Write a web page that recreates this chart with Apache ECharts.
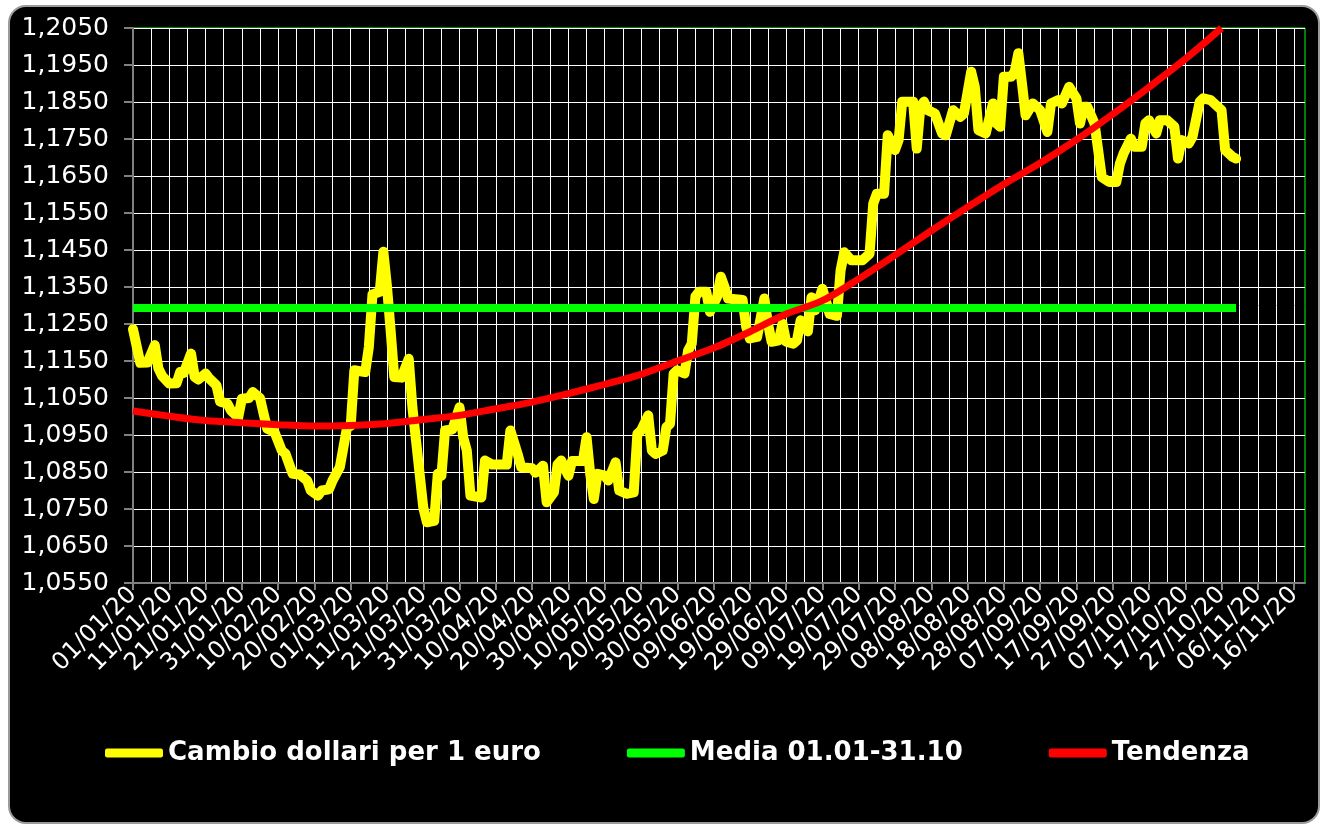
<!DOCTYPE html>
<html lang="it">
<head>
<meta charset="UTF-8">
<script src="https://cdn.jsdelivr.net/npm/echarts@6/dist/echarts.min.js"></script>
<title>Cambio dollari per 1 euro</title>
<style>
  body { margin: 0; background: #fff; }
  #frame { position: absolute; left: 8px; top: 5px; width: 1308px; height: 815px;
           background: #000; border: 2px solid #9a9a9a; border-radius: 18px; }
  #chart { position: absolute; left: 0; top: 0; width: 1322px; height: 825px; }
</style>
</head>
<body>
<div id="frame"></div>
<div id="chart"></div>
<script>
// asse x: un giorno per categoria, dal 01/01/20 al 19/11/20
var startDay = new Date(2020, 0, 1);
var dayCount = 324;

// cambio giornaliero (indice giorno -> valore)
var rateDays = [0, 2, 4, 6, 7, 8, 10, 12, 13, 14, 16, 17, 18, 20, 21, 23, 24, 26, 27, 29,
  30, 32, 33, 35, 36, 37, 39, 41, 42, 44, 46, 48, 49, 51, 52, 54, 55, 57, 58, 59,
  60, 61, 64, 65, 66, 68, 69, 70, 71, 72, 74, 76, 77, 78, 80, 81, 83, 84, 85, 86,
  88, 90, 91, 92, 93, 96, 97, 99, 103, 104, 106, 107, 110, 111, 113, 114, 116, 117, 118, 120,
  121, 124, 125, 126, 127, 128, 130, 131, 133, 134, 136, 138, 139, 140, 142, 143, 144, 146, 147, 148,
  149, 150, 152, 153, 154, 155, 156, 158, 159, 161, 162, 163, 164, 168, 169, 170, 172, 174, 175, 176,
  178, 179, 180, 182, 183, 184, 185, 186, 187, 188, 190, 192, 194, 195, 196, 198, 201, 203, 204, 205,
  207, 208, 210, 211, 212, 215, 216, 217, 218, 219, 221, 223, 224, 226, 228, 229, 231, 232, 233, 235,
  237, 238, 239, 240, 242, 243, 244, 245, 246, 248, 250, 252, 253, 255, 256, 258, 260, 261, 262, 263,
  265, 266, 267, 269, 271, 272, 273, 275, 276, 278, 279, 280, 282, 283, 285, 287, 288, 289, 291, 292,
  294, 295, 297, 299, 300, 301, 303, 304];
var rateValues = [1.1236, 1.1145, 1.1146, 1.1193, 1.1130, 1.1110, 1.1089, 1.1090, 1.1120, 1.1118, 1.1170, 1.1107, 1.1100, 1.1116, 1.1103, 1.1084, 1.1040, 1.1035, 1.1016, 1.0998,
  1.1048, 1.1050, 1.1066, 1.1050, 1.1007, 1.0967, 1.0958, 1.0908, 1.0900, 1.0845, 1.0843, 1.0827, 1.0800, 1.0786, 1.0800, 1.0803, 1.0827, 1.0863, 1.0917, 1.0971,
  1.0975, 1.1125, 1.1120, 1.1188, 1.1330, 1.1337, 1.1445, 1.1351, 1.1233, 1.1107, 1.1105, 1.1156, 1.1025, 1.0935, 1.0754, 1.0714, 1.0718, 1.0845, 1.0840, 1.0962,
  1.0965, 1.1025, 1.0944, 1.0908, 1.0786, 1.0781, 1.0881, 1.0870, 1.0870, 1.0962, 1.0899, 1.0863, 1.0860, 1.0848, 1.0867, 1.0768, 1.0795, 1.0870, 1.0881, 1.0840,
  1.0880, 1.0880, 1.0944, 1.0845, 1.0777, 1.0845, 1.0840, 1.0827, 1.0876, 1.0800, 1.0791, 1.0795, 1.0953, 1.0962, 1.1003, 1.0908, 1.0899, 1.0908, 1.0971, 1.0980,
  1.1116, 1.1125, 1.1116, 1.1179, 1.1197, 1.1324, 1.1337, 1.1337, 1.1283, 1.1324, 1.1378, 1.1351, 1.1319, 1.1315, 1.1242, 1.1211, 1.1215, 1.1319, 1.1251, 1.1202,
  1.1206, 1.1251, 1.1202, 1.1197, 1.1206, 1.1260, 1.1242, 1.1230, 1.1322, 1.1287, 1.1345, 1.1277, 1.1272, 1.1394, 1.1444, 1.1422, 1.1422, 1.1440, 1.1575, 1.1602,
  1.1602, 1.1760, 1.1720, 1.1747, 1.1851, 1.1851, 1.1724, 1.1837, 1.1851, 1.1828, 1.1819, 1.1765, 1.1760, 1.1828, 1.1810, 1.1819, 1.1932, 1.1891, 1.1774, 1.1765,
  1.1846, 1.1792, 1.1783, 1.1918, 1.1918, 1.1932, 1.1982, 1.1900, 1.1814, 1.1846, 1.1828, 1.1769, 1.1846, 1.1855, 1.1846, 1.1891, 1.1860, 1.1792, 1.1837, 1.1837,
  1.1792, 1.1720, 1.1647, 1.1634, 1.1634, 1.1684, 1.1711, 1.1751, 1.1729, 1.1729, 1.1792, 1.1801, 1.1765, 1.1801, 1.1801, 1.1783, 1.1697, 1.1747, 1.1738, 1.1756,
  1.1851, 1.1860, 1.1855, 1.1837, 1.1828, 1.1720, 1.1702, 1.1697];

// media 01.01-31.10
var mediaDays = [0, 304];
var mediaValue = 1.1293;

// linea di tendenza
var trendDays = [0, 10, 20, 30, 40, 50, 60, 70, 80, 90, 100, 110, 120, 130, 140, 150, 160, 170, 180, 190,
  200, 210, 220, 230, 240, 250, 260, 270, 280, 290, 300];
var trendValues = [1.1015, 1.1001, 1.0989, 1.0983, 1.0978, 1.0974, 1.0976, 1.0981, 1.0992, 1.1003, 1.1021, 1.1039, 1.1062, 1.1087, 1.1114, 1.1150, 1.1185, 1.1229, 1.1277, 1.1313,
  1.1372, 1.1436, 1.1502, 1.1566, 1.1628, 1.1685, 1.1748, 1.1817, 1.1890, 1.1966, 1.2050];

var seriesNames = ['Cambio dollari per 1 euro', 'Media 01.01-31.10', 'Tendenza'];

function pad(n) { return n < 10 ? '0' + n : '' + n; }
var dates = [];
for (var i = 0; i < dayCount; i++) {
  var d = new Date(startDay.getFullYear(), startDay.getMonth(), startDay.getDate() + i);
  dates.push(pad(d.getDate()) + '/' + pad(d.getMonth() + 1) + '/' + String(d.getFullYear()).slice(2));
}

function pairs(xs, ys) {
  var res = [];
  for (var i = 0; i < xs.length; i++) res.push([xs[i], ys[i]]);
  return res;
}

var chart = echarts.init(document.getElementById('chart'));
var font = 'DejaVu Sans, Verdana, sans-serif';

var option = {
  backgroundColor: 'transparent',
  animation: false,
  grid: {
    left: 133, right: 17, top: 28, bottom: 242,
    show: true, backgroundColor: '#000', borderColor: '#00ff00', borderWidth: 1
  },
  legend: {
    left: 100, top: 735,
    itemWidth: 58, itemHeight: 9, itemGap: 86,
    icon: 'roundRect',
    textStyle: { color: '#fff', fontFamily: font, fontWeight: 'bold', fontSize: 26 },
    data: seriesNames
  },
  xAxis: {
    type: 'category',
    boundaryGap: false,
    data: dates,
    axisLine: { lineStyle: { color: '#808080', width: 2 } },
    axisTick: { interval: 9, length: 7, lineStyle: { color: '#808080', width: 2 } },
    axisLabel: { interval: 9, rotate: 45, color: '#fff', fontFamily: font, fontSize: 24, margin: 8 },
    splitLine: { show: true, interval: 4, lineStyle: { color: '#fff', width: 1 } }
  },
  yAxis: {
    type: 'value',
    min: 1.055, max: 1.205, interval: 0.01,
    axisLine: { show: true, lineStyle: { color: '#808080', width: 2 } },
    axisTick: { show: true, length: 9, lineStyle: { color: '#808080', width: 2 } },
    axisLabel: {
      color: '#fff', fontFamily: font, fontSize: 25, margin: 24,
      formatter: function (v) { return v.toFixed(4).replace('.', ','); }
    },
    splitLine: { show: true, lineStyle: { color: '#fff', width: 1 } }
  },
  series: [
    {
      name: seriesNames[0], type: 'line', symbol: 'none',
      data: pairs(rateDays, rateValues),
      itemStyle: { color: '#ffff00' },
      lineStyle: { color: '#ffff00', width: 10, cap: 'round', join: 'round' }
    },
    {
      name: seriesNames[1], type: 'line', symbol: 'none',
      data: pairs(mediaDays, [mediaValue, mediaValue]),
      itemStyle: { color: '#00ff00' },
      lineStyle: { color: '#00ff00', width: 8 }
    },
    {
      name: seriesNames[2], type: 'line', symbol: 'none', smooth: 0.3,
      data: pairs(trendDays, trendValues),
      itemStyle: { color: '#ff0000' },
      lineStyle: { color: '#ff0000', width: 7 }
    }
  ]
};
chart.setOption(option);
</script>
</body>
</html>
